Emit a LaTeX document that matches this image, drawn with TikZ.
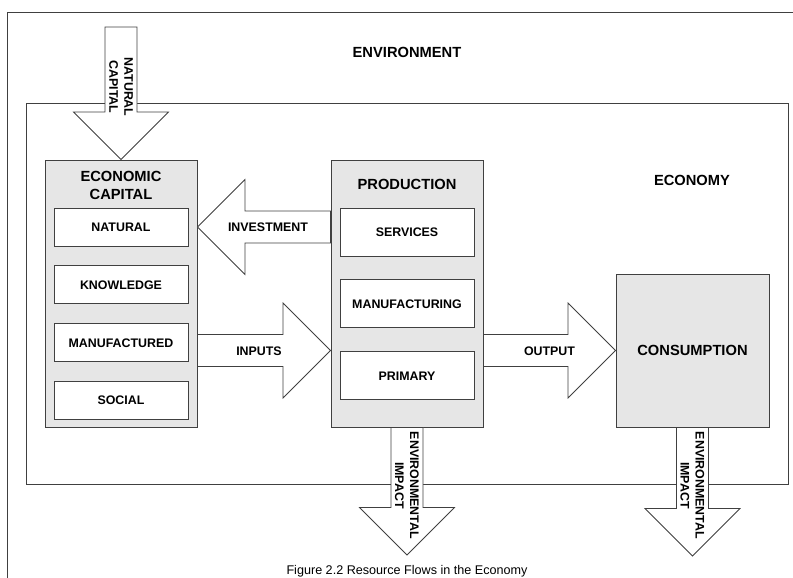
\documentclass[tikz,border=0pt]{standalone}
\usepackage{fontspec}
\setmainfont{Liberation Sans}
\usetikzlibrary{calc,positioning}

\definecolor{linegray}{RGB}{64,64,64}
\definecolor{boxgray}{RGB}{230,230,230}
\newcommand\titlefont{\fontsize{14.7}{18}\selectfont\bfseries}
\newcommand\flowfont{\fontsize{12.4}{15}\selectfont\bfseries}

\tikzset{
  panel/.style={draw=linegray, fill=boxgray, line width=0.9pt, minimum width=152pt, minimum height=267pt},
  item/.style={draw=linegray, fill=white, line width=0.9pt, minimum width=134pt, font=\flowfont},
  biglabel/.style={font=\titlefont, align=center},
  flowlabel/.style={font=\flowfont, align=center},
  fat arrow/.style={draw=linegray, fill=white, line width=0.8pt, to path={
    let \p1=(\tikztostart), \p2=(\tikztotarget), \p3=($(\p2)!47.5pt!(\p1)$) in
    ($(\p1)!16pt!90:(\p2)$) -- ($(\p3)!16pt!90:(\p2)$) -- ($(\p3)!47.5pt!90:(\p2)$)
    -- (\p2) -- ($(\p3)!47.5pt!-90:(\p2)$) -- ($(\p3)!16pt!-90:(\p2)$)
    -- ($(\p1)!16pt!-90:(\p2)$) -- cycle}}
}

\begin{document}
\begin{tikzpicture}[x=1pt, y=-1pt]
\useasboundingbox (0,0) rectangle (793,578);
\clip (0,0) rectangle (793,578);

% environment and economy
\draw[linegray, line width=0.8pt] (7,12) rectangle (810,600);
\node[biglabel] (envlabel) at (407,52) {ENVIRONMENT};
\node[draw=linegray, line width=0.8pt, minimum width=762pt, minimum height=381pt] (economy) at (407,293.5) {};
\node[biglabel] (econlabel) at (692,180) {ECONOMY};

% economic capital
\node[panel] (cap) at (121,293.5) {};
\node[biglabel] (captitle) at (121,185) {ECONOMIC\\CAPITAL};
\node[item, minimum height=38pt] (natural) at (121,227) {NATURAL};
\node[item, minimum height=38pt, below=19pt of natural] (knowledge) {KNOWLEDGE};
\node[item, minimum height=38pt, below=19pt of knowledge] (manufactured) {MANUFACTURED};
\node[item, minimum height=38pt, below=19pt of manufactured] (social) {SOCIAL};

% production
\node[panel] (prod) at (407,293.5) {};
\node[biglabel] (prodtitle) at (407,184) {PRODUCTION};
\node[item, minimum height=48pt] (services) at (407,232) {SERVICES};
\node[item, minimum height=48pt, below=23pt of services] (manufacturing) {MANUFACTURING};
\node[item, minimum height=48pt, below=23pt of manufacturing] (primary) {PRIMARY};

% consumption
\node[panel, minimum width=153pt, minimum height=153pt, font=\titlefont] (cons) at (692.5,350.5) {CONSUMPTION};

% flows
\coordinate (natsrc) at (121,27);
\coordinate (sink1) at (407,555);
\coordinate (sink2) at (692.5,556);
\draw[fat arrow] (natsrc) to (cap.north);
\draw[fat arrow] (prod.west |- natural) to (cap.east |- natural);
\draw[fat arrow] (cap.east |- cons) to (prod.west |- cons);
\draw[fat arrow] (prod.east |- cons) to (cons.west);
\draw[fat arrow] (prod.south) to (sink1);
\draw[fat arrow] (cons.south) to (sink2);

\node[flowlabel, rotate=-90] (natlabel) at (121,87) {NATURAL\\CAPITAL};
\node[flowlabel] (investlabel) at (268,227) {INVESTMENT};
\node[flowlabel] (inputlabel) at (259,351) {INPUTS};
\node[flowlabel] (outputlabel) at (549.5,351) {OUTPUT};
\node[flowlabel, rotate=-90] (impact1) at (407,485.5) {ENVIRONMENTAL\\IMPACT};
\node[flowlabel, rotate=-90] (impact2) at (692.5,485.5) {ENVIRONMENTAL\\IMPACT};

\node[anchor=base, font=\fontsize{12.6}{15}\selectfont] (caption) at (407,574.5) {Figure 2.2 Resource Flows in the Economy};
\end{tikzpicture}
\end{document}
